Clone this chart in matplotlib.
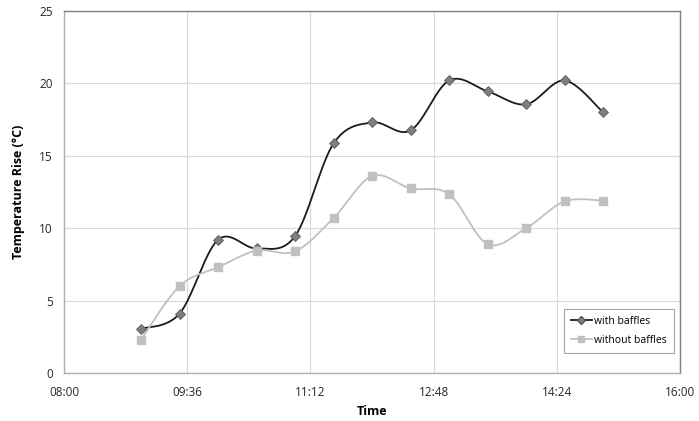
import matplotlib.pyplot as plt
import numpy as np
from matplotlib.ticker import FuncFormatter

# time of day in hours
times = [9.0, 9.5, 10.0, 10.5, 11.0, 11.5, 12.0, 12.5, 13.0, 13.5, 14.0, 14.5, 15.0]
with_baffles = [3.05, 4.1, 9.2, 8.6, 9.45, 15.85, 17.3, 16.75, 20.2, 19.45, 18.55, 20.2, 18.0]
without_baffles = [2.3, 6.0, 7.3, 8.45, 8.4, 10.7, 13.6, 12.75, 12.35, 8.9, 10.0, 11.85, 11.9]

xticks = [8.0, 9.6, 11.2, 12.8, 14.4, 16.0]
yticks = [0, 5, 10, 15, 20, 25]


def smooth(x, y, n=30):
    # Bezier segments with Catmull-Rom style tangents (like spreadsheet smoothing)
    x = np.asarray(x, float)
    y = np.asarray(y, float)
    px = np.concatenate([[x[0]], x, [x[-1]]])
    py = np.concatenate([[y[0]], y, [y[-1]]])
    xs, ys = [], []
    t = np.linspace(0, 1, n)
    for i in range(len(x) - 1):
        p0 = np.array([px[i + 1], py[i + 1]])
        p3 = np.array([px[i + 2], py[i + 2]])
        p1 = p0 + (np.array([px[i + 2], py[i + 2]]) - np.array([px[i], py[i]])) / 6
        p2 = p3 - (np.array([px[i + 3], py[i + 3]]) - np.array([px[i + 1], py[i + 1]])) / 6
        b = ((1 - t) ** 3)[:, None] * p0 + (3 * (1 - t) ** 2 * t)[:, None] * p1 \
            + (3 * (1 - t) * t ** 2)[:, None] * p2 + (t ** 3)[:, None] * p3
        xs.extend(b[:, 0])
        ys.extend(b[:, 1])
    return xs, ys


def hhmm(v, pos):
    h = int(v)
    m = int(round((v - h) * 60))
    return f"{h:02d}:{m:02d}"


plt.rcParams["font.family"] = ["Open Sans", "DejaVu Sans"]

fig = plt.figure(figsize=(6.99, 4.21), dpi=100)
ax = fig.add_axes([0.0916, 0.114, 0.8814, 0.86])

sx, sy = smooth(times, with_baffles)
ax.plot(sx, sy, color="#1a1a1a", lw=1.3, zorder=3)
ax.plot(times, with_baffles, ls="none", marker="D", ms=5, mfc="#7f7f7f",
        mec="#5a5a5a", mew=0.6, zorder=4)

sx, sy = smooth(times, without_baffles)
ax.plot(sx, sy, color="#c0c0c0", lw=1.3, zorder=3)
ax.plot(times, without_baffles, ls="none", marker="s", ms=5.5, mfc="#c0c0c0",
        mec="#c0c0c0", zorder=4)

# legend handles
ax.plot([], [], color="#1a1a1a", lw=1.3, marker="D", ms=4, mfc="#7f7f7f",
        mec="#5a5a5a", label="with baffles")
ax.plot([], [], color="#c0c0c0", lw=1.3, marker="s", ms=5, mfc="#c0c0c0",
        mec="#c0c0c0", label="without baffles")

ax.set_xlim(8, 16)
ax.set_ylim(0, 25)
ax.set_xticks(xticks)
ax.set_yticks(yticks)
ax.xaxis.set_major_formatter(FuncFormatter(hhmm))
ax.grid(True, color="#d9d9d9", lw=0.8)
ax.set_axisbelow(True)
ax.tick_params(length=0, labelsize=8.5, colors="#262626")
ax.tick_params(axis="x", pad=9)
ax.tick_params(axis="y", pad=8)

for side in ["top", "right"]:
    ax.spines[side].set_color("#808080")
for side in ["left", "bottom"]:
    ax.spines[side].set_color("#b0b0b0")
for sp in ax.spines.values():
    sp.set_linewidth(1.0)

ax.set_xlabel("Time", fontsize=9, fontweight="bold", labelpad=5)
ax.set_ylabel("Temperature Rise (\u00b0C)", fontsize=9, fontweight="bold", labelpad=10)

leg = ax.legend(loc="lower right", bbox_to_anchor=(0.99, 0.055), borderaxespad=0,
                fontsize=7.5, handlelength=2.0, handletextpad=0.2, labelspacing=0.75,
                borderpad=0.7, fancybox=False, framealpha=1, edgecolor="#a6a6a6")
leg.get_frame().set_linewidth(0.8)

fig.savefig("out.png", dpi=100)
